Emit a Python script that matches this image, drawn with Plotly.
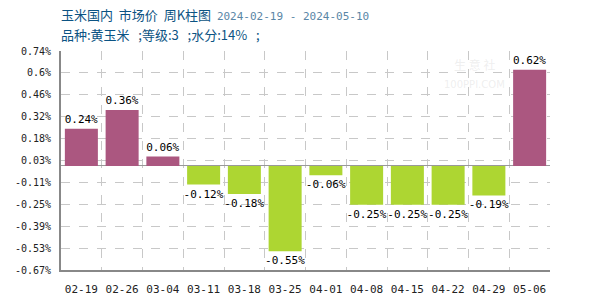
import numpy as np
import plotly.graph_objects as go

dates = ["02-19", "02-26", "03-04", "03-11", "03-18", "03-25", "04-01",
         "04-08", "04-15", "04-22", "04-29", "05-06"]
values = [0.24, 0.36, 0.06, -0.12, -0.18, -0.55, -0.06, -0.25, -0.25, -0.25, -0.19, 0.62]
tick_labels = ["-0.67%", "-0.53%", "-0.39%", "-0.25%", "-0.11%", "0.03%",
               "0.18%", "0.32%", "0.46%", "0.6%", "0.74%"]
y_min, y_max = -0.67, 0.74

POS = "#AB5780"
NEG = "#ADD632"
MONO = "DejaVu Sans Mono, Liberation Mono, monospace"

colors = [POS if v >= 0 else NEG for v in values]
texts = [f"{v:.2f}%" for v in values]

fig = go.Figure()
fig.add_trace(go.Bar(
    x=dates, y=values, marker=dict(color=colors, line=dict(width=0)),
    text=texts, textposition="outside", cliponaxis=False,
    textfont=dict(family=MONO, size=11, color="#000000"),
    hoverinfo="skip", width=0.81,
))

tickvals = np.linspace(y_min, y_max, len(tick_labels))

fig.update_layout(
    width=600, height=300,
    margin=dict(l=61, r=50, t=51, b=30, autoexpand=False),
    paper_bgcolor="white", plot_bgcolor="white",
    showlegend=False,
    bargap=0.19,
    uniformtext=dict(minsize=11, mode="show"),
    xaxis=dict(
        type="category", tickson="boundaries", showgrid=True,
        gridcolor="#c8c8c8", griddash="dash", gridwidth=1,
        showline=True, linecolor="#888888", linewidth=2,
        ticks="", tickangle=0, automargin=False,
        tickfont=dict(family=MONO, size=11, color="#222222"),
        ticklabelstandoff=8, range=[-0.5, 11.5],
    ),
    yaxis=dict(
        range=[y_min, y_max], tickvals=tickvals, ticktext=tick_labels,
        showgrid=True, gridcolor="#c8c8c8", griddash="dash", gridwidth=1,
        showline=True, linecolor="#888888", linewidth=2,
        zeroline=True, zerolinecolor="#999999", zerolinewidth=1,
        ticks="", automargin=False,
        tickfont=dict(family=MONO, size=10, color="#222222"),
        ticklabelstandoff=6,
    ),
    font=dict(family="Noto Sans CJK SC"),
)

# Title & subtitle
fig.add_annotation(
    xref="paper", yref="paper", x=0, y=1, xshift=-2, yshift=37,
    xanchor="left", yanchor="middle", showarrow=False,
    text="<span style='color:#0b5383'>玉米国内&nbsp;&nbsp;市场价&nbsp;&nbsp;周K柱图</span>&nbsp;&nbsp;"
         "<span style='color:#5a86a6;font-family:DejaVu Sans Mono;font-size:11px'>2024-02-19 - 2024-05-10</span>",
    font=dict(family="Noto Sans CJK SC", size=13, color="#0b5383"),
)
fig.add_annotation(
    xref="paper", yref="paper", x=0, y=1, xshift=-2, yshift=17,
    xanchor="left", yanchor="middle", showarrow=False,
    text="品种:黄玉米&nbsp;&nbsp;&nbsp;;等级:3&nbsp;&nbsp;&nbsp;;水分:14%&nbsp;&nbsp;&nbsp;;",
    font=dict(family="Noto Sans CJK SC", size=13, color="#0b5383"),
)
# faint watermark (two separate lines)
fig.add_annotation(
    xref="paper", yref="paper", x=0.845, y=0.985, xanchor="center", yanchor="top",
    showarrow=False, text="生 意 社",
    font=dict(family="Noto Sans CJK SC", size=12, color="rgba(200,200,200,0.3)"),
)
fig.add_annotation(
    xref="paper", yref="paper", x=0.845, y=0.88, xanchor="center", yanchor="top",
    showarrow=False, text="100PPI.COM",
    font=dict(family="DejaVu Sans", size=10, color="rgba(200,200,200,0.3)"),
)

fig.write_html("out.html")
